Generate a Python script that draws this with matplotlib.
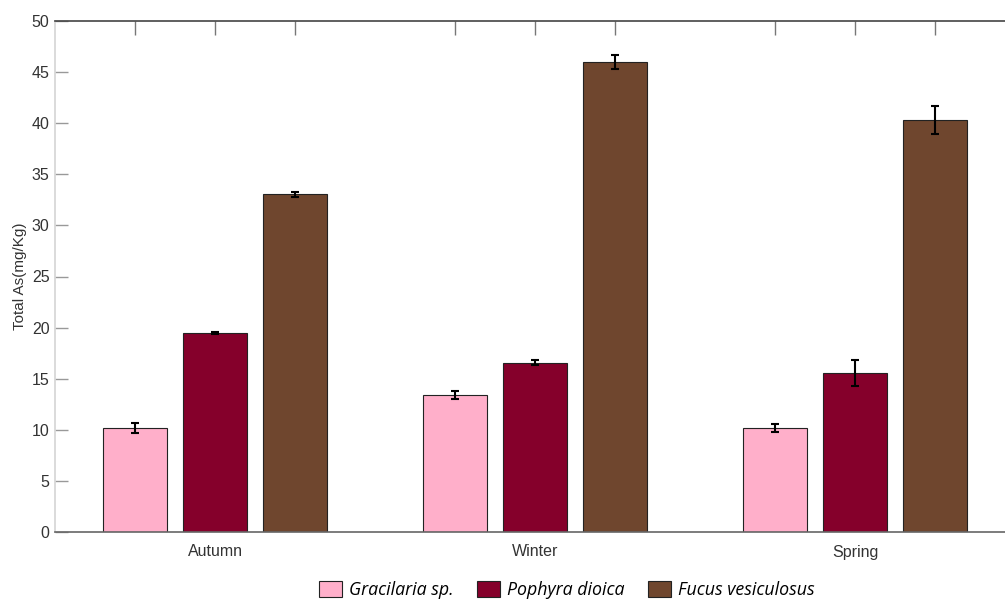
import numpy as np
import matplotlib.pyplot as plt
from matplotlib.patches import Patch

seasons = ["Autumn", "Winter", "Spring"]
species = ["Gracilaria sp.", "Pophyra dioica", "Fucus vesiculosus"]
colors = ["#FFAFCA", "#85002B", "#6F462E"]

gracilaria = [10.2, 13.4, 10.2]
gracilaria_err = [0.5, 0.35, 0.4]
pophyra = [19.5, 16.55, 15.55]
pophyra_err = [0.1, 0.25, 1.3]
fucus = [33.05, 46.0, 40.3]
fucus_err = [0.25, 0.7, 1.35]

values = [gracilaria, pophyra, fucus]
errors = [gracilaria_err, pophyra_err, fucus_err]

plt.rcParams['font.family'] = ['Liberation Sans', 'DejaVu Sans']

fig = plt.figure(figsize=(10.05, 5.99), dpi=100)
ax = fig.add_axes([55 / 1005, 1 - 532 / 599, 960 / 1005, 511 / 599])

x = np.arange(1, len(seasons) + 1)
offsets = [-0.25, 0.0, 0.25]
width = 0.2

for vals, errs, off, c, name in zip(values, errors, offsets, colors, species):
    ax.bar(x + off, vals, width, color=c, edgecolor="#222222", linewidth=0.8,
           label=name, zorder=2)
    ax.errorbar(x + off, vals, yerr=errs, fmt="none", ecolor="black",
                elinewidth=1.5, capsize=3, capthick=1.5, zorder=3)

ax.set_xlim(0.5, 3.5)
ax.set_ylim(0, 50)
ax.set_yticks(np.arange(0, 51, 5))
ax.set_xticks(x)
ax.set_xticklabels(seasons)
ax.tick_params(axis="x", length=0, labelsize=11.5, colors="#333333", pad=9)
ax.tick_params(axis="y", direction="in", length=9, width=1, color="#999999",
               labelsize=11.5, labelcolor="#333333", pad=4)

# top ticks at bar positions
top = ax.secondary_xaxis("top")
top.set_xticks(np.concatenate([x + o for o in offsets]))
top.tick_params(direction="in", length=10, width=1, color="#777777",
                labeltop=False)
top.spines["top"].set_visible(False)

ax.spines["left"].set_color("#d4d4d4")
ax.spines["top"].set_color("#444444")
ax.spines["bottom"].set_color("#666666")
ax.spines["right"].set_visible(False)
for s in ax.spines.values():
    s.set_linewidth(1.2)

ax.set_ylabel("Total As(mg/Kg)", fontsize=11, color="#333333", labelpad=3)

handles = [Patch(facecolor=c, edgecolor="#222222", linewidth=0.8) for c in colors]
fig.legend(handles, species, loc="lower center", ncol=3, frameon=False,
           bbox_to_anchor=(567 / 1005, -0.027), handlelength=1.3,
           handleheight=1.0, handletextpad=0.4, columnspacing=1.3,
           prop={"family": "Open Sans", "style": "italic", "size": 12.8})

fig.savefig("out.png", dpi=100)
